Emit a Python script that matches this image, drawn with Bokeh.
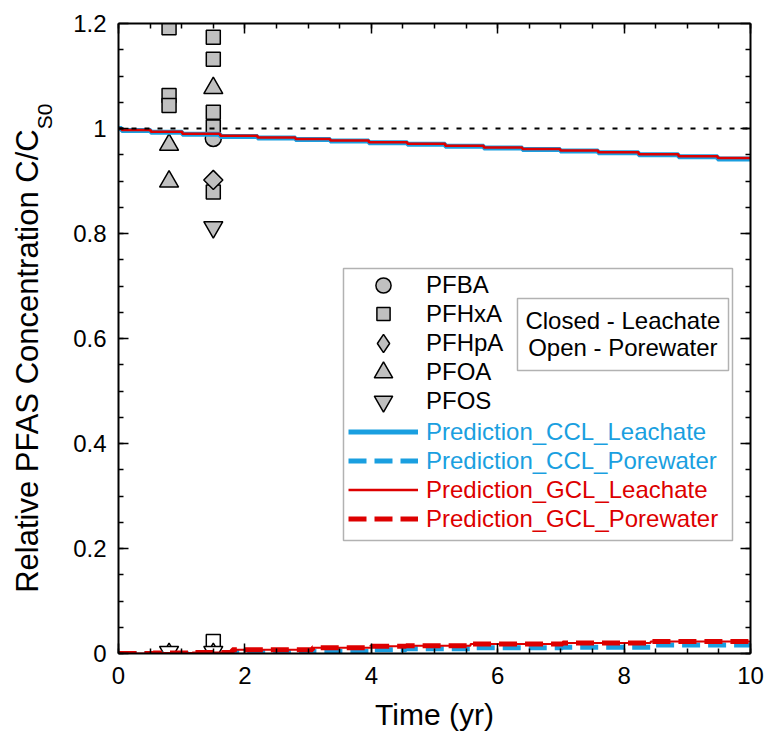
import numpy as np
from bokeh.plotting import figure
from bokeh.layouts import row
from bokeh.models import (Range1d, LinearAxis, FixedTicker, Legend, LegendItem,
                          Label, Span, BoxAnnotation)
from bokeh.embed import file_html
from bokeh.resources import INLINE

FONT = "Liberation Sans"
BLUE = "#1a9fe0"
RED = "#dd0000"
GRAY = "#c0c0c0"

# ---------------- data ----------------
# model predictions (step output)
leach_t = [0, 0.05, 0.51, 1.01, 1.61, 2.20, 2.80, 3.35, 3.96, 4.57, 5.17, 5.78,
           6.39, 6.99, 7.59, 8.23, 8.86, 9.48, 10.0]
ccl_leach = [1.000, 0.996, 0.993, 0.989, 0.985, 0.982, 0.979, 0.976, 0.973, 0.970,
             0.966, 0.963, 0.960, 0.957, 0.954, 0.950, 0.946, 0.942, 0.942]
gcl_leach = [1.000, 0.997, 0.994, 0.990, 0.986, 0.983, 0.980, 0.977, 0.974, 0.971,
             0.967, 0.964, 0.961, 0.958, 0.955, 0.951, 0.947, 0.944, 0.944]

pore_t = [0, 0.55, 1.17, 1.80, 2.45, 3.07, 4.00, 4.55, 5.57, 7.03, 8.42, 10.0]
ccl_pore = [0.000, 0.000, 0.001, 0.0025, 0.003, 0.004, 0.007, 0.009, 0.011, 0.012, 0.016, 0.018]
gcl_pore = [0.000, 0.001, 0.002, 0.007, 0.007, 0.011, 0.014, 0.015, 0.018, 0.020, 0.023, 0.023]

# measured leachate (closed symbols)
pfba_leach_t = [1.5]
pfba_leach = [0.981]
pfhxa_leach_t = [0.8, 0.8, 0.8, 1.5, 1.5, 1.5, 1.5, 1.5]
pfhxa_leach = [1.192, 1.063, 1.044, 1.174, 1.132, 1.031, 1.003, 0.879]
pfhpa_leach_t = [1.5]
pfhpa_leach = [0.902]
pfoa_leach_t = [0.8, 0.8, 1.5]
pfoa_leach = [0.969, 0.899, 1.077]
pfos_leach_t = [1.5]
pfos_leach = [0.812]

# measured porewater (open symbols)
pfhxa_pore_t = [1.5]
pfhxa_pore = [0.023]
pfoa_pore_t = [0.8, 1.5]
pfoa_pore = [-0.001, -0.001]
pfos_pore_t = [0.8, 1.5]
pfos_pore = [0.003, 0.003]

x_ticks = [0, 2, 4, 6, 8, 10]
x_tick_labels = ["0", "2", "4", "6", "8", "10"]
x_minor = [0.5 * i for i in range(21)]
y_ticks = [0, 0.2, 0.4, 0.6, 0.8, 1.0, 1.2]
y_tick_labels = ["0", "0.2", "0.4", "0.6", "0.8", "1", "1.2"]
y_minor = [0.05 * i for i in range(25)]

ref_level = 1.0

y_title = "Relative PFAS Concentration C/C"
y_title_sub = "S0"
x_title = "Time (yr)"
legend_labels = ["PFBA", "PFHxA", "PFHpA", "PFOA", "PFOS",
                 "Prediction_CCL_Leachate", "Prediction_CCL_Porewater",
                 "Prediction_GCL_Leachate", "Prediction_GCL_Porewater"]
note_lines = ["Closed - Leachate", "Open - Porewater"]

TITLE_W = 66

# ---------------- y-title strip ----------------
tf = figure(width=TITLE_W, height=738, output_backend="svg", toolbar_location=None,
            x_range=Range1d(0, TITLE_W), y_range=Range1d(0, 738),
            min_border=0, min_border_left=0, min_border_right=0,
            min_border_top=0, min_border_bottom=0,
            x_axis_location=None, y_axis_location=None)
tf.xgrid.visible = False
tf.ygrid.visible = False
tf.outline_line_color = None
tf.add_layout(Label(x=27, y=738 - 124, text=y_title,
                    angle=np.pi / 2, text_align="right", text_baseline="alphabetic",
                    text_font=FONT, text_font_size="31px", text_color="black"))
tf.add_layout(Label(x=44, y=738 - 124, text=y_title_sub,
                    angle=np.pi / 2, text_align="left", text_baseline="alphabetic",
                    text_font=FONT, text_font_size="21px", text_color="black"))

# ---------------- main figure ----------------
p = figure(width=765 - TITLE_W, height=738, output_backend="svg", toolbar_location=None,
           x_range=Range1d(0, 10), y_range=Range1d(0, 1.2),
           min_border_left=118 - TITLE_W, min_border_right=15, min_border_top=23,
           min_border_bottom=85, x_axis_location=None, y_axis_location=None)
p.xgrid.visible = False
p.ygrid.visible = False
p.outline_line_color = None


def style_axis(ax, ticks, minor, labels, show):
    ax.ticker = FixedTicker(ticks=ticks, minor_ticks=minor)
    ax.major_tick_in = 10
    ax.major_tick_out = 0
    ax.minor_tick_in = 5
    ax.minor_tick_out = 0
    ax.axis_line_width = 2
    ax.axis_line_color = "black"
    ax.major_tick_line_width = 1.5
    ax.minor_tick_line_width = 1.5
    ax.major_tick_line_color = "black"
    ax.minor_tick_line_color = "black"
    ax.major_label_text_font = FONT
    ax.major_label_text_color = "black"
    if show:
        ax.major_label_text_font_size = "24px"
        ax.major_label_overrides = {t: l for t, l in zip(ticks, labels)}
    else:
        ax.major_label_text_font_size = "0px"
        ax.major_label_standoff = 0


xb = LinearAxis()
style_axis(xb, x_ticks, x_minor, x_tick_labels, True)
xb.major_label_standoff = 13
xb.axis_label = x_title
xb.axis_label_text_font = FONT
xb.axis_label_text_font_size = "30px"
xb.axis_label_text_font_style = "normal"
xb.axis_label_text_color = "black"
xb.axis_label_standoff = 11
p.add_layout(xb, "below")

yl = LinearAxis()
style_axis(yl, y_ticks, y_minor, y_tick_labels, True)
yl.major_label_standoff = 12
p.add_layout(yl, "left")

xt = LinearAxis()
style_axis(xt, x_ticks, x_minor, x_tick_labels, False)
p.add_layout(xt, "above")

yr = LinearAxis()
style_axis(yr, y_ticks, y_minor, y_tick_labels, False)
p.add_layout(yr, "right")

# ---------------- markers ----------------
mk = dict(fill_color=GRAY, line_color="black", line_width=1.5)
op = dict(fill_color="white", line_color="black", line_width=1.5)

r_pfba = p.scatter(pfba_leach_t, pfba_leach, marker="circle", size=16, **mk)
r_pfhxa = p.scatter(pfhxa_leach_t, pfhxa_leach, marker="square", size=14, **mk)
# diamond: legend swatch renderer hidden beneath the rotated-square point
r_pfhpa = p.scatter(pfhpa_leach_t, pfhpa_leach, marker="diamond", size=16, **mk)
p.scatter(pfhpa_leach_t, pfhpa_leach, marker="square", angle=np.pi / 4, size=13.5, **mk)
r_pfoa = p.scatter(pfoa_leach_t, pfoa_leach, marker="triangle", size=19, **mk)
r_pfos = p.scatter(pfos_leach_t, pfos_leach, marker="inverted_triangle", size=19, **mk)

p.scatter(pfhxa_pore_t, pfhxa_pore, marker="square", size=14, **op)
p.scatter(pfoa_pore_t, pfoa_pore, marker="triangle", size=19, **op)
p.scatter(pfos_pore_t, pfos_pore, marker="inverted_triangle", size=19, **op)

# ---------------- prediction lines ----------------
r_ccl_l = p.step(leach_t, ccl_leach, mode="after", line_color=BLUE, line_width=5)
r_gcl_l = p.step(leach_t, gcl_leach, mode="after", line_color=RED, line_width=2.5)
r_ccl_p = p.step(pore_t, ccl_pore, mode="after", line_color=BLUE, line_width=5, line_dash="18 8")
p.step(pore_t, gcl_pore, mode="after", line_color=RED, line_width=2)
r_gcl_p = p.step(pore_t, gcl_pore, mode="after", line_color=RED, line_width=5, line_dash="18 8")

p.add_layout(Span(location=ref_level, dimension="width", line_color="black",
                  line_width=2, line_dash="5 8"))

# ---------------- legend ----------------
p.add_layout(BoxAnnotation(left=3.560, right=9.715, bottom=0.2152, top=0.7333,
                           fill_color="white", fill_alpha=1.0,
                           line_color="black", line_width=1.5))

leg_renderers = [r_pfba, r_pfhxa, r_pfhpa, r_pfoa, r_pfos,
                 r_ccl_l, r_ccl_p, r_gcl_l, r_gcl_p]
leg_colors = ["black"] * 5 + [BLUE, BLUE, RED, RED]
leg_centers = [285, 314, 343, 372, 401, 432, 461, 490, 519]  # page pixel rows
leg_glyph_h = [38, 33, 46, 46, 46, 29, 29, 29, 29]           # sets swatch size
FRAME_BOTTOM = 653
for lab, rr, col, cy, gh in zip(legend_labels, leg_renderers, leg_colors,
                                leg_centers, leg_glyph_h):
    lg = Legend(items=[LegendItem(label=lab, renderers=[rr])],
                location=(230 + (70 - max(gh, 70)) // 2, FRAME_BOTTOM - cy - gh // 2),
                padding=0, spacing=0, margin=0,
                label_height=gh, glyph_height=gh, glyph_width=70,
                label_standoff=8, label_text_font=FONT,
                label_text_font_size="24px", label_text_color=col,
                border_line_color=None, background_fill_alpha=0.0)
    p.add_layout(lg)

# closed/open note box
p.add_layout(BoxAnnotation(left=6.313, right=9.652, bottom=0.539, top=0.6762,
                           fill_color="white", fill_alpha=1.0,
                           line_color="black", line_width=1.5))
for txt, yy in zip(note_lines, [0.6343, 0.5829]):
    p.add_layout(Label(x=7.98, y=yy, text=txt, text_align="center",
                       text_baseline="middle", text_font=FONT,
                       text_font_size="24px", text_color="black"))

layout = row(tf, p, spacing=0)
open("out.html", "w").write(file_html(layout, INLINE))
